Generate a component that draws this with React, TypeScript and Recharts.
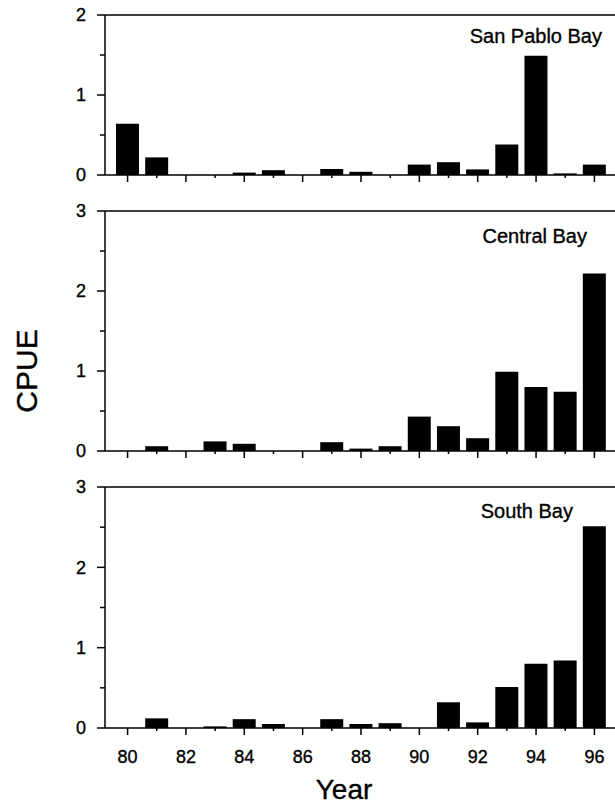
import React from 'react';
import { BarChart, Bar, XAxis, YAxis, ReferenceLine } from 'recharts';

const years = ['80', '81', '82', '83', '84', '85', '86', '87', '88', '89', '90', '91', '92', '93', '94', '95', '96'];
const sanPabloBay = [0.64, 0.22, 0, 0, 0.03, 0.06, 0, 0.075, 0.04, 0, 0.13, 0.16, 0.07, 0.38, 1.49, 0.02, 0.13];
const centralBay = [0, 0.06, 0, 0.12, 0.09, 0, 0, 0.11, 0.03, 0.06, 0.43, 0.31, 0.16, 0.99, 0.8, 0.74, 2.22];
const southBay = [0, 0.12, 0, 0.02, 0.11, 0.05, 0, 0.11, 0.05, 0.06, 0, 0.32, 0.07, 0.51, 0.8, 0.84, 2.51];

const yTicksTop = [0, 0.5, 1, 1.5, 2];
const yTicks = [0, 0.5, 1, 1.5, 2, 2.5, 3];

const panelTitles = ['San Pablo Bay', 'Central Bay', 'South Bay'];
const yLabel = 'CPUE';
const xLabel = 'Year';

const FONT = '"Liberation Sans", Arial, Helvetica, sans-serif';
const TXT = { fontFamily: FONT, fill: '#000', stroke: '#000', strokeWidth: 0.35 };

const toRows = (vals: number[]) => years.map((y, i) => ({ year: y, v: vals[i] }));

const XTick = (props: any) => {
  const { x, y, payload, showLabel } = props;
  const yr = Number(payload.value);
  const major = yr % 2 === 0;
  return (
    <g>
      <line x1={x} x2={x} y1={y} y2={y + (major ? 7 : 3)} stroke="#000" strokeWidth={1.5} />
      {showLabel && major ? (
        <text x={x} y={y + 35} textAnchor="middle" fontSize={18} {...TXT}>
          {payload.value}
        </text>
      ) : null}
    </g>
  );
};

const YTick = (props: any) => {
  const { x, y, payload } = props;
  const v = Number(payload.value);
  const major = Math.abs(v - Math.round(v)) < 1e-6;
  return (
    <g>
      <line x1={x - (major ? 8 : 5)} x2={x} y1={y} y2={y} stroke="#000" strokeWidth={1.5} />
      {major ? (
        <text x={x - 19} y={y} dy="0.36em" textAnchor="end" fontSize={18} {...TXT}>
          {String(v)}
        </text>
      ) : null}
    </g>
  );
};

type PanelProps = {
  vals: number[];
  top: number;
  height: number;
  marginTop: number;
  xAxisHeight: number;
  yMax: number;
  ticks: number[];
  showXLabels: boolean;
};

const Panel = ({ vals, top, height, marginTop, xAxisHeight, yMax, ticks, showXLabels }: PanelProps) => (
  <div style={{ position: 'absolute', left: 0, top }}>
    <BarChart
      width={620}
      height={height}
      data={toRows(vals)}
      margin={{ top: marginTop, right: 3, bottom: 0, left: 0 }}
      barSize={23}
    >
      <XAxis
        dataKey="year"
        type="category"
        interval={0}
        height={xAxisHeight}
        padding={{ left: 8, right: 8 }}
        axisLine={{ stroke: '#000', strokeWidth: 1.5 }}
        tickLine={false}
        tickSize={0}
        tickMargin={0}
        tick={(p: any) => <XTick {...p} showLabel={showXLabels} />}
      />
      <YAxis
        type="number"
        domain={[0, yMax]}
        ticks={ticks}
        interval={0}
        width={105}
        axisLine={{ stroke: '#000', strokeWidth: 1.5 }}
        tickLine={false}
        tickSize={0}
        tickMargin={0}
        tick={(p: any) => <YTick {...p} />}
      />
      <ReferenceLine y={yMax} stroke="#000" strokeWidth={1.5} />
      <Bar dataKey="v" fill="#000" isAnimationActive={false} />
    </BarChart>
  </div>
);

export default function App() {
  return (
    <div
      style={{
        position: 'absolute',
        left: 0,
        top: 0,
        width: 615,
        height: 807,
        overflow: 'hidden',
        background: '#fff',
      }}
    >
      <Panel vals={sanPabloBay} top={0} height={200} marginTop={15} xAxisHeight={25} yMax={2} ticks={yTicksTop} showXLabels={false} />
      <Panel vals={centralBay} top={200} height={276} marginTop={11} xAxisHeight={25} yMax={3} ticks={yTicks} showXLabels={false} />
      <Panel vals={southBay} top={476} height={302} marginTop={11} xAxisHeight={50} yMax={3} ticks={yTicks} showXLabels={true} />
      <svg
        width={615}
        height={807}
        style={{ position: 'absolute', left: 0, top: 0, pointerEvents: 'none' }}
      >
        <text x={602} y={43} textAnchor="end" fontSize={20} {...TXT}>
          {panelTitles[0]}
        </text>
        <text x={587} y={243} textAnchor="end" fontSize={20} {...TXT}>
          {panelTitles[1]}
        </text>
        <text x={573} y={518} textAnchor="end" fontSize={20} {...TXT}>
          {panelTitles[2]}
        </text>
        <text
          x={37}
          y={371}
          transform="rotate(-90 37 371)"
          textAnchor="middle"
          fontSize={30}
          {...TXT}
        >
          {yLabel}
        </text>
        <text x={344} y={799} textAnchor="middle" fontSize={28} {...TXT}>
          {xLabel}
        </text>
      </svg>
    </div>
  );
}
